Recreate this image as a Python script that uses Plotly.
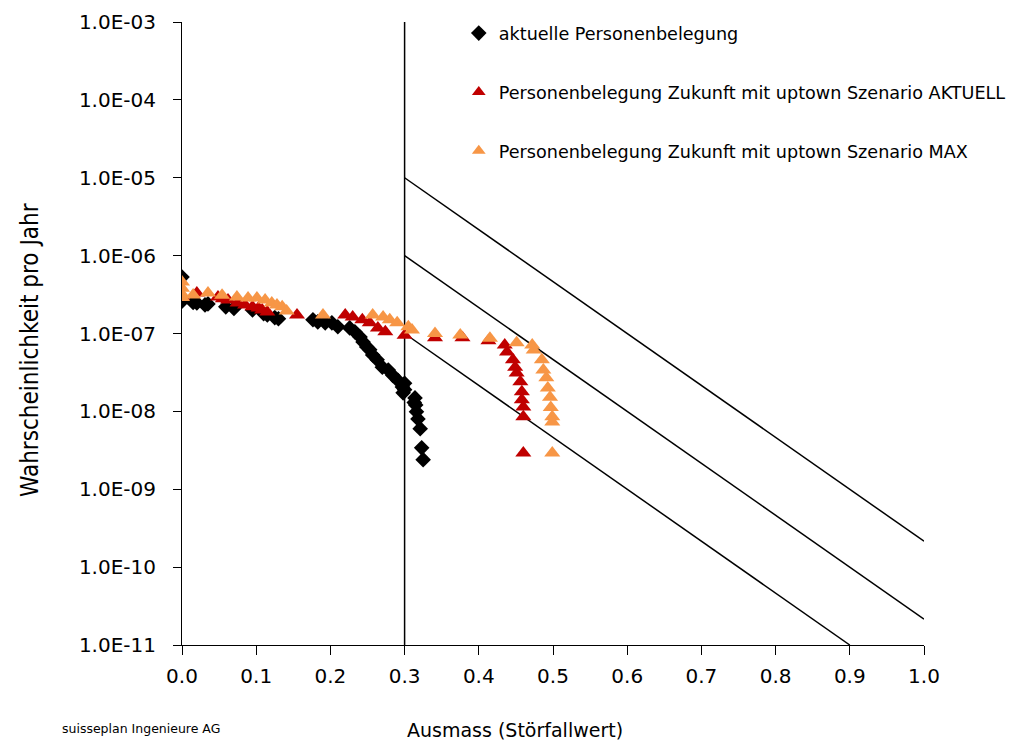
import plotly.graph_objects as go

# ---- data ----
black_x = [0.0, 0.0, 0.015, 0.02, 0.031, 0.035, 0.059, 0.07, 0.095, 0.11, 0.115, 0.125, 0.13,
           0.1765, 0.183, 0.193, 0.202, 0.21, 0.226, 0.233, 0.24, 0.244, 0.249, 0.253, 0.257,
           0.263, 0.27, 0.278, 0.284, 0.291, 0.297, 0.298, 0.3, 0.3,
           0.314, 0.313, 0.315, 0.316, 0.318, 0.321, 0.323, 0.325]
black_y = [5.3e-7, 2.6e-7, 2.5e-7, 2.47e-7, 2.33e-7, 2.4e-7, 2.2e-7, 2.1e-7, 2.0e-7, 1.8e-7, 1.73e-7, 1.6e-7, 1.55e-7,
           1.50e-7, 1.41e-7, 1.37e-7, 1.37e-7, 1.22e-7, 1.18e-7, 1.05e-7, 9.0e-8, 7.8e-8, 6.7e-8, 6.2e-8, 5.3e-8,
           4.6e-8, 3.7e-8, 3.4e-8, 2.9e-8, 2.5e-8, 2.06e-8, 1.73e-8, 2.3e-8, 1.9e-8,
           1.49e-8, 1.3e-8, 1.21e-8, 9.9e-9, 8.0e-9, 6.0e-9, 3.4e-9, 2.4e-9]

red_x = [0.0, 0.02, 0.0485, 0.055, 0.062, 0.075, 0.085, 0.095, 0.103, 0.108, 0.115, 0.155,
         0.22, 0.23, 0.243, 0.253, 0.264, 0.274, 0.3, 0.341, 0.378, 0.413,
         0.435, 0.438, 0.446, 0.449, 0.451, 0.456, 0.458, 0.458, 0.46, 0.46, 0.46]
red_y = [3.0e-7, 3.3e-7, 2.95e-7, 2.8e-7, 2.7e-7, 2.47e-7, 2.33e-7, 2.2e-7, 2.13e-7, 2.01e-7, 1.89e-7, 1.73e-7,
         1.73e-7, 1.63e-7, 1.5e-7, 1.37e-7, 1.18e-7, 1.05e-7, 9.5e-8, 8.8e-8, 8.8e-8, 8.1e-8,
         7.1e-8, 5.8e-8, 4.6e-8, 3.7e-8, 3.1e-8, 2.4e-8, 1.78e-8, 1.41e-8, 1.14e-8, 8.5e-9, 2.93e-9]

orange_x = [0.0, 0.0, 0.0, 0.0, 0.015, 0.035, 0.054, 0.074, 0.089, 0.101, 0.112, 0.121, 0.128, 0.135, 0.141,
            0.19, 0.257, 0.271, 0.28, 0.29, 0.305, 0.31, 0.341, 0.375, 0.415, 0.451,
            0.472, 0.474, 0.485, 0.487, 0.491, 0.493, 0.496, 0.497, 0.499, 0.499, 0.499]
orange_y = [4.6e-7, 3.8e-7, 3.2e-7, 2.9e-7, 3.13e-7, 3.3e-7, 3.1e-7, 2.95e-7, 2.86e-7, 2.86e-7, 2.7e-7, 2.47e-7, 2.33e-7, 2.2e-7, 1.95e-7,
            1.73e-7, 1.73e-7, 1.63e-7, 1.5e-7, 1.37e-7, 1.22e-7, 1.11e-7, 1.0e-7, 9.6e-8, 8.7e-8, 7.6e-8,
            7.1e-8, 6.15e-8, 4.6e-8, 3.4e-8, 2.7e-8, 2.0e-8, 1.52e-8, 1.12e-8, 8.5e-9, 7.3e-9, 2.93e-9]

# criteria lines
vline_x = [0.3, 0.3]
vline_y = [1e-11, 1e-3]
line1_x = [0.3, 1.0]
line1_y = [1e-5, 2.15e-10]
line2_x = [0.3, 1.0]
line2_y = [1e-6, 2.15e-11]
line3_x = [0.3, 0.9]
line3_y = [1e-7, 1e-11]

y_tickvals = [1e-11, 1e-10, 1e-9, 1e-8, 1e-7, 1e-6, 1e-5, 1e-4, 1e-3]
y_ticktext = ["1.0E-11", "1.0E-10", "1.0E-09", "1.0E-08", "1.0E-07", "1.0E-06", "1.0E-05", "1.0E-04", "1.0E-03"]
x_tickvals = [0.0, 0.1, 0.2, 0.3, 0.4, 0.5, 0.6, 0.7, 0.8, 0.9, 1.0]

names = ["aktuelle Personenbelegung",
         "Personenbelegung Zukunft mit uptown Szenario AKTUELL",
         "Personenbelegung Zukunft mit uptown Szenario MAX"]

fig = go.Figure()

for lx, ly in [(vline_x, vline_y), (line1_x, line1_y), (line2_x, line2_y), (line3_x, line3_y)]:
    fig.add_trace(go.Scatter(x=lx, y=ly, mode="lines", line=dict(color="black", width=1.5),
                             showlegend=False, hoverinfo="skip"))

fig.add_trace(go.Scatter(x=black_x, y=black_y, mode="markers", name=names[0], legendgroup="a",
                         marker=dict(symbol="diamond", size=12, color="black")))
fig.add_trace(go.Scatter(x=red_x, y=red_y, mode="markers", name=names[1], legendgroup="b",
                         marker=dict(symbol="triangle-up", size=14, color="#C00000")))
fig.add_trace(go.Scatter(x=orange_x, y=orange_y, mode="markers", name=names[2], legendgroup="c",
                         marker=dict(symbol="triangle-up", size=14, color="#F79646")))

fig.update_layout(
    width=1014, height=734,
    margin=dict(l=174, r=98, t=14, b=97, autoexpand=False),
    paper_bgcolor="white", plot_bgcolor="white",
    font=dict(family="DejaVu Sans", color="black"),
    legend=dict(x=0.373, y=1.011, xanchor="left", yanchor="top", traceorder="grouped",
                tracegroupgap=33, itemsizing="constant", bgcolor="rgba(0,0,0,0)",
                font=dict(family="DejaVu Sans", size=17.6, color="black")),
    xaxis=dict(range=[0, 1], tickvals=x_tickvals, tickformat=".1f", showgrid=False, zeroline=False,
               showline=True, linecolor="black", linewidth=1, ticks="outside", ticklen=9,
               tickcolor="black", tickfont=dict(size=20), ticklabelstandoff=4),
    yaxis=dict(type="log", range=[-11, -3], tickvals=y_tickvals, ticktext=y_ticktext, showgrid=False,
               zeroline=False, showline=True, linecolor="black", linewidth=1, ticks="outside",
               ticklen=8, tickcolor="black", tickfont=dict(size=20), ticklabelstandoff=13),
    annotations=[
        dict(text="Ausmass (Störfallwert)", xref="paper", yref="paper", x=0.449, y=-0.1364,
             xanchor="center", yanchor="middle", showarrow=False,
             font=dict(family="DejaVu Sans", size=19)),
        dict(text="Wahrscheinlichkeit pro Jahr", xref="paper", yref="paper", x=-0.205, y=0.4735,
             xanchor="center", yanchor="middle", showarrow=False, textangle=-90,
             font=dict(family="DejaVu Sans Condensed, Liberation Sans Narrow, Roboto", size=24)),
        dict(text="suisseplan Ingenieure AG", xref="paper", yref="paper", x=-0.1644, y=-0.1335,
             xanchor="left", yanchor="middle", showarrow=False,
             font=dict(family="DejaVu Sans", size=12.5)),
    ],
)

fig.write_html("out.html")
